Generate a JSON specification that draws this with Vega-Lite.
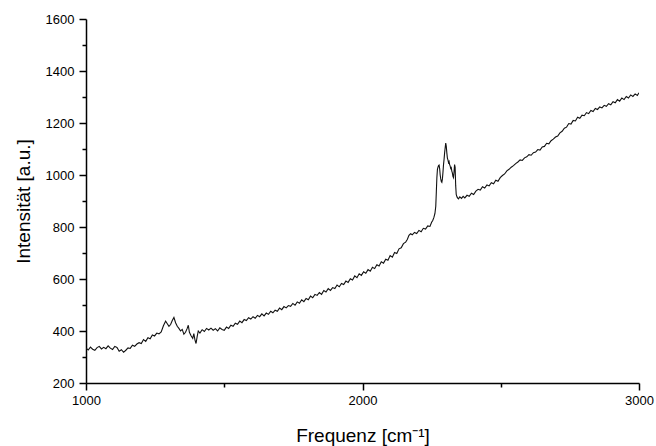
{
  "$schema": "https://vega.github.io/schema/vega-lite/v6.json",
  "width": 553,
  "height": 364,
  "autosize": "none",
  "padding": {"left": 86, "top": 19, "right": 17, "bottom": 63},
  "background": "white",
  "config": {
    "view": {"stroke": null},
    "font": "Liberation Sans",
    "axis": {
      "domainColor": "black",
      "domainWidth": 1.5,
      "tickColor": "black",
      "tickWidth": 1.5,
      "labelColor": "black",
      "labelFont": "Liberation Sans",
      "labelFontSize": 13,
      "titleFont": "Liberation Sans",
      "titleFontSize": 19,
      "titleFontWeight": "normal",
      "titleColor": "black",
      "grid": false
    }
  },
  "data": {"values": [
    {"f":1000,"i":334},{"f":1008,"i":327},{"f":1016,"i":338},{"f":1024,"i":330},{"f":1032,"i":326},{"f":1040,"i":336},{"f":1048,"i":341},{"f":1056,"i":331},{"f":1064,"i":337},{"f":1072,"i":332},{"f":1080,"i":343},{"f":1088,"i":334},{"f":1096,"i":329},{"f":1104,"i":341},{"f":1112,"i":337},{"f":1120,"i":322},{"f":1128,"i":328},{"f":1136,"i":318},{"f":1144,"i":326},{"f":1152,"i":335},{"f":1160,"i":333},{"f":1168,"i":345},{"f":1176,"i":341},{"f":1184,"i":350},{"f":1192,"i":355},{"f":1200,"i":352},{"f":1208,"i":367},{"f":1216,"i":360},{"f":1224,"i":374},{"f":1232,"i":370},{"f":1240,"i":385},{"f":1248,"i":381},{"f":1256,"i":392},{"f":1264,"i":389},{"f":1272,"i":396},{"f":1280,"i":420},{"f":1288,"i":438},{"f":1294,"i":428},{"f":1300,"i":418},{"f":1306,"i":425},{"f":1312,"i":440},{"f":1318,"i":452},{"f":1324,"i":432},{"f":1330,"i":418},{"f":1336,"i":410},{"f":1342,"i":400},{"f":1348,"i":406},{"f":1354,"i":388},{"f":1360,"i":395},{"f":1366,"i":410},{"f":1370,"i":422},{"f":1374,"i":395},{"f":1380,"i":382},{"f":1386,"i":372},{"f":1390,"i":390},{"f":1394,"i":366},{"f":1398,"i":352},{"f":1402,"i":378},{"f":1406,"i":400},{"f":1412,"i":392},{"f":1420,"i":405},{"f":1428,"i":398},{"f":1436,"i":410},{"f":1444,"i":404},{"f":1452,"i":411},{"f":1460,"i":403},{"f":1468,"i":409},{"f":1476,"i":400},{"f":1484,"i":412},{"f":1492,"i":406},{"f":1500,"i":403},{"f":1508,"i":415},{"f":1516,"i":410},{"f":1524,"i":422},{"f":1532,"i":418},{"f":1540,"i":430},{"f":1548,"i":426},{"f":1556,"i":438},{"f":1564,"i":432},{"f":1572,"i":444},{"f":1580,"i":440},{"f":1588,"i":451},{"f":1596,"i":446},{"f":1604,"i":455},{"f":1612,"i":449},{"f":1620,"i":460},{"f":1628,"i":455},{"f":1636,"i":466},{"f":1644,"i":458},{"f":1652,"i":469},{"f":1660,"i":464},{"f":1668,"i":476},{"f":1676,"i":470},{"f":1684,"i":480},{"f":1692,"i":476},{"f":1700,"i":488},{"f":1708,"i":482},{"f":1716,"i":494},{"f":1724,"i":489},{"f":1732,"i":498},{"f":1740,"i":495},{"f":1748,"i":506},{"f":1756,"i":499},{"f":1764,"i":512},{"f":1772,"i":507},{"f":1780,"i":520},{"f":1788,"i":513},{"f":1796,"i":525},{"f":1804,"i":520},{"f":1812,"i":534},{"f":1820,"i":528},{"f":1828,"i":541},{"f":1836,"i":537},{"f":1844,"i":548},{"f":1852,"i":541},{"f":1860,"i":556},{"f":1868,"i":550},{"f":1876,"i":563},{"f":1884,"i":556},{"f":1892,"i":567},{"f":1900,"i":563},{"f":1908,"i":577},{"f":1916,"i":570},{"f":1924,"i":583},{"f":1932,"i":579},{"f":1940,"i":592},{"f":1948,"i":587},{"f":1956,"i":601},{"f":1964,"i":596},{"f":1972,"i":612},{"f":1980,"i":605},{"f":1988,"i":620},{"f":1996,"i":614},{"f":2004,"i":628},{"f":2012,"i":622},{"f":2020,"i":636},{"f":2028,"i":630},{"f":2036,"i":645},{"f":2044,"i":640},{"f":2052,"i":655},{"f":2060,"i":650},{"f":2068,"i":666},{"f":2076,"i":661},{"f":2084,"i":676},{"f":2092,"i":672},{"f":2100,"i":690},{"f":2108,"i":684},{"f":2116,"i":702},{"f":2124,"i":698},{"f":2132,"i":716},{"f":2140,"i":720},{"f":2148,"i":736},{"f":2156,"i":742},{"f":2162,"i":752},{"f":2168,"i":768},{"f":2174,"i":774},{"f":2180,"i":770},{"f":2188,"i":779},{"f":2196,"i":775},{"f":2204,"i":787},{"f":2212,"i":782},{"f":2220,"i":795},{"f":2228,"i":792},{"f":2236,"i":804},{"f":2244,"i":802},{"f":2250,"i":818},{"f":2254,"i":825},{"f":2258,"i":836},{"f":2262,"i":852},{"f":2265,"i":880},{"f":2267,"i":935},{"f":2269,"i":990},{"f":2271,"i":1022},{"f":2273,"i":1030},{"f":2275,"i":1036},{"f":2277,"i":1038},{"f":2279,"i":1025},{"f":2281,"i":1000},{"f":2283,"i":985},{"f":2285,"i":975},{"f":2287,"i":972},{"f":2289,"i":985},{"f":2291,"i":1010},{"f":2293,"i":1040},{"f":2295,"i":1060},{"f":2297,"i":1085},{"f":2299,"i":1105},{"f":2301,"i":1123},{"f":2303,"i":1110},{"f":2305,"i":1085},{"f":2307,"i":1065},{"f":2309,"i":1058},{"f":2311,"i":1048},{"f":2313,"i":1052},{"f":2315,"i":1040},{"f":2317,"i":1035},{"f":2319,"i":1025},{"f":2321,"i":1028},{"f":2323,"i":1015},{"f":2325,"i":1008},{"f":2327,"i":995},{"f":2329,"i":990},{"f":2331,"i":1010},{"f":2333,"i":1040},{"f":2335,"i":1030},{"f":2337,"i":960},{"f":2339,"i":925},{"f":2341,"i":918},{"f":2343,"i":913},{"f":2347,"i":908},{"f":2352,"i":916},{"f":2358,"i":910},{"f":2364,"i":918},{"f":2370,"i":912},{"f":2378,"i":922},{"f":2386,"i":918},{"f":2394,"i":930},{"f":2402,"i":925},{"f":2410,"i":938},{"f":2418,"i":945},{"f":2426,"i":942},{"f":2434,"i":955},{"f":2442,"i":950},{"f":2450,"i":962},{"f":2458,"i":958},{"f":2466,"i":970},{"f":2474,"i":966},{"f":2482,"i":980},{"f":2490,"i":976},{"f":2498,"i":990},{"f":2506,"i":998},{"f":2514,"i":1004},{"f":2522,"i":1016},{"f":2530,"i":1022},{"f":2538,"i":1030},{"f":2546,"i":1036},{"f":2554,"i":1044},{"f":2562,"i":1050},{"f":2570,"i":1058},{"f":2578,"i":1056},{"f":2586,"i":1066},{"f":2594,"i":1070},{"f":2602,"i":1078},{"f":2610,"i":1076},{"f":2618,"i":1086},{"f":2626,"i":1088},{"f":2634,"i":1098},{"f":2642,"i":1096},{"f":2650,"i":1108},{"f":2658,"i":1110},{"f":2666,"i":1122},{"f":2674,"i":1120},{"f":2682,"i":1132},{"f":2690,"i":1138},{"f":2698,"i":1146},{"f":2706,"i":1150},{"f":2714,"i":1162},{"f":2722,"i":1168},{"f":2730,"i":1180},{"f":2738,"i":1184},{"f":2746,"i":1198},{"f":2754,"i":1196},{"f":2762,"i":1210},{"f":2770,"i":1208},{"f":2778,"i":1222},{"f":2786,"i":1218},{"f":2794,"i":1230},{"f":2802,"i":1228},{"f":2810,"i":1240},{"f":2818,"i":1236},{"f":2826,"i":1248},{"f":2834,"i":1244},{"f":2842,"i":1256},{"f":2850,"i":1252},{"f":2858,"i":1262},{"f":2866,"i":1258},{"f":2874,"i":1268},{"f":2882,"i":1264},{"f":2890,"i":1274},{"f":2898,"i":1270},{"f":2906,"i":1282},{"f":2914,"i":1278},{"f":2922,"i":1290},{"f":2930,"i":1284},{"f":2938,"i":1296},{"f":2946,"i":1290},{"f":2954,"i":1302},{"f":2962,"i":1296},{"f":2970,"i":1308},{"f":2978,"i":1302},{"f":2986,"i":1312},{"f":2994,"i":1306},{"f":3000,"i":1316}
  ]},
  "layer": [
    {
      "mark": {"type": "line", "color": "#111111", "strokeWidth": 1.1, "clip": true},
      "encoding": {
        "x": {
          "field": "f", "type": "quantitative",
          "scale": {"domain": [1000, 3000], "nice": false, "zero": false},
          "axis": {"orient": "bottom", "values": [1000, 2000, 3000], "tickSize": 7, "labelPadding": 4, "title": "Frequenz [cm⁻¹]", "titlePadding": 19, "labelFlush": false, "format": "d"}
        },
        "y": {
          "field": "i", "type": "quantitative",
          "scale": {"domain": [200, 1600], "nice": false, "zero": false},
          "axis": {"orient": "left", "values": [200, 400, 600, 800, 1000, 1200, 1400, 1600], "tickSize": 7, "labelPadding": 5, "title": "Intensität [a.u.]", "titlePadding": 12, "labelFlush": false, "format": "d"}
        }
      }
    },
    {
      "mark": {"type": "line", "opacity": 0},
      "encoding": {
        "x": {
          "field": "f", "type": "quantitative",
          "axis": {"orient": "bottom", "values": [1500, 2500], "tickSize": 4, "labels": false, "domain": false, "title": null}
        },
        "y": {
          "field": "i", "type": "quantitative",
          "axis": {"orient": "left", "values": [300, 500, 700, 900, 1100, 1300, 1500], "tickSize": 4, "labels": false, "domain": false, "title": null}
        }
      }
    }
  ],
  "resolve": {"axis": {"x": "independent", "y": "independent"}}
}
